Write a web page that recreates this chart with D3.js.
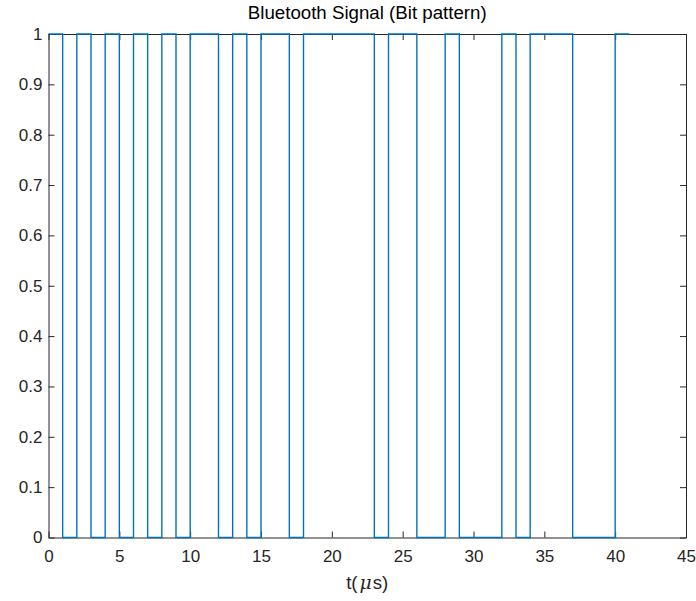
<!DOCTYPE html>
<html>
<head>
<meta charset="utf-8">
<script src="https://cdn.jsdelivr.net/npm/d3@7"></script>
<style>
  body { margin: 0; background: #fff; }
  svg { display: block; font-family: "Liberation Sans", Arial, Helvetica, sans-serif; }
</style>
</head>
<body>
<script>
// one bit per microsecond, t = 0..40
const bits = [1, 0, 1, 0, 1, 0, 1, 0, 1, 0,
              1, 1, 0, 1, 0, 1, 1, 0, 1, 1,
              1, 1, 1, 0, 1, 1, 0, 0, 1, 0,
              0, 0, 1, 0, 1, 1, 1, 0, 0, 0,
              1];
const xTicks = [0, 5, 10, 15, 20, 25, 30, 35, 40, 45];
const yTicks = [0, 0.1, 0.2, 0.3, 0.4, 0.5, 0.6, 0.7, 0.8, 0.9, 1];

const width = 696, height = 601;
const margin = { top: 34, right: 10, bottom: 63.5, left: 48.5 };
const axisColor = "#262626";

// step points: each bit holds until the next microsecond, last one held to t=41
const points = bits.map((b, i) => ({ t: i, v: b }));
points.push({ t: bits.length, v: bits[bits.length - 1] });

const svg = d3.select("body").append("svg")
  .attr("width", width)
  .attr("height", height);

const x = d3.scaleLinear().domain([0, 45]).range([margin.left, width - margin.right]);
const y = d3.scaleLinear().domain([0, 1]).range([height - margin.bottom, margin.top]);

// axes (inward ticks, mirrored on top/right like a boxed plot)
const tickLen = 6;
svg.append("g")
  .attr("transform", `translate(0,${y(0)})`)
  .call(d3.axisBottom(x).tickValues(xTicks).tickSizeInner(-tickLen).tickSizeOuter(0).tickPadding(12));
svg.append("g")
  .attr("transform", `translate(${x(0)},0)`)
  .call(d3.axisLeft(y).tickValues(yTicks).tickFormat(d3.format("~g")).tickSizeInner(-tickLen).tickSizeOuter(0).tickPadding(6));
svg.append("g")
  .attr("transform", `translate(0,${y(1)})`)
  .call(d3.axisTop(x).tickValues(xTicks).tickSizeInner(-tickLen).tickSizeOuter(0).tickFormat(""));
svg.append("g")
  .attr("transform", `translate(${x(45)},0)`)
  .call(d3.axisRight(y).tickValues(yTicks).tickSizeInner(-tickLen).tickSizeOuter(0).tickFormat(""));

svg.selectAll(".domain, .tick line").attr("stroke", axisColor);
svg.selectAll(".tick text")
  .attr("fill", axisColor)
  .attr("font-size", 17);

const line = d3.line()
  .x(d => x(d.t))
  .y(d => y(d.v))
  .curve(d3.curveStepAfter);

svg.append("path")
  .datum(points)
  .attr("fill", "none")
  .attr("stroke", "#0072BD")
  .attr("stroke-width", 1.4)
  .attr("d", line);

// title and x label
svg.append("text")
  .attr("x", (x(0) + x(45)) / 2)
  .attr("y", 19)
  .attr("text-anchor", "middle")
  .attr("font-size", 18.7)
  .attr("fill", "#000")
  .text("Bluetooth Signal (Bit pattern)");

const xl = svg.append("text")
  .attr("x", (x(0) + x(45)) / 2)
  .attr("y", 589)
  .attr("text-anchor", "middle")
  .attr("font-size", 18.7)
  .attr("fill", axisColor);
xl.append("tspan").text("t(");
xl.append("tspan").attr("font-style", "italic").attr("font-family", "'DejaVu Serif', 'Liberation Serif', serif").attr("dx", 2).text("μ");
xl.append("tspan").attr("dx", 1).text("s)");
</script>
</body>
</html>
